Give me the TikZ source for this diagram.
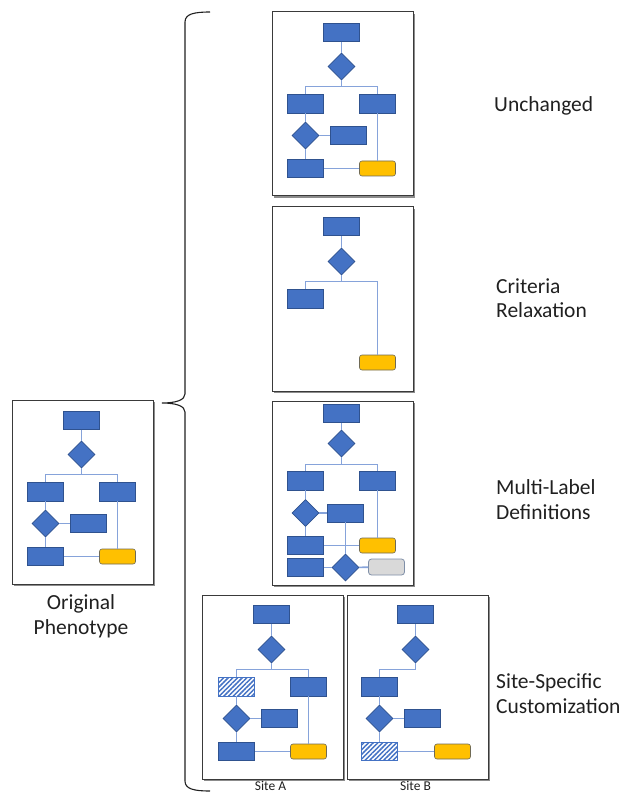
\documentclass[tikz,border=0pt]{standalone}
\usepackage{fontspec}
\setmainfont{Carlito}
\usetikzlibrary{shapes.geometric,patterns.meta,shadows}
\definecolor{ink}{HTML}{202020}
\definecolor{framegray}{HTML}{3A3A3A}
\definecolor{blockblue}{HTML}{4472C4}
\definecolor{blockedge}{HTML}{2F528F}
\definecolor{linkblue}{HTML}{86A3DA}
\definecolor{goldfill}{HTML}{FFC000}
\definecolor{goldedge}{HTML}{6F6A55}
\definecolor{greyfill}{HTML}{D9D9D9}
\definecolor{greyedge}{HTML}{7F8FA8}
\tikzset{
  panel/.style={draw=framegray,fill=white,line width=1pt,minimum width=141pt,minimum height=184pt,inner sep=0pt,
    drop shadow={shadow xshift=1.6pt,shadow yshift=-1.6pt,fill=black,opacity=0.45}},
  stepbox/.style={draw=blockedge,fill=blockblue,line width=0.6pt,minimum width=36pt,minimum height=18pt,inner sep=0pt},
  hatchbox/.style={draw=blockblue,preaction={fill=white},pattern={Lines[angle=45,distance=3.3pt,line width=1.5pt]},
    pattern color=blockblue,line width=0.8pt,minimum width=36pt,minimum height=18pt,inner sep=0pt},
  decision/.style={diamond,aspect=1,draw=blockedge,fill=blockblue,line width=0.6pt,minimum width=27pt,minimum height=27pt,inner sep=0pt},
  goalbox/.style={draw=goldedge,fill=goldfill,rounded corners=2.5pt,line width=0.6pt,minimum width=36pt,minimum height=15pt,inner sep=0pt},
  extrabox/.style={draw=greyedge,fill=greyfill,rounded corners=3pt,line width=0.8pt,minimum width=36pt,minimum height=16pt,inner sep=0pt},
  link/.style={draw=linkblue,line width=1.6pt},
  caption/.style={font=\fontsize{21.5}{24.4}\selectfont,text=ink,align=left,inner sep=0pt},
  sitecap/.style={font=\fontsize{13.5}{15}\selectfont,text=ink,inner sep=0pt}
}
\begin{document}
\begin{tikzpicture}[x=1pt,y=-1pt]
  \useasboundingbox (0,0) rectangle (627,794);

  % frames
  \node[panel] (orig) at (82.5,492) {};
  \node[panel] (unch) at (342.5,104) {};
  \node[panel] (crit) at (342.5,299) {};
  \node[panel] (multi) at (342.5,493) {};
  \node[panel] (sitea) at (272.5,687) {};
  \node[panel] (siteb) at (417.5,687) {};

  % original phenotype
  \begin{scope}[shift={(orig.north west)}]
    \node[stepbox] (o-start) at (70,21) {};
    \node[decision] (o-q1) at (70,55) {};
    \coordinate (o-fork) at (70,75);
    \node[stepbox,minimum height=19pt] (o-left) at (34,92) {};
    \node[stepbox,minimum height=19pt] (o-right) at (106,92) {};
    \node[decision] (o-q2) at (34,124) {};
    \node[stepbox] (o-side) at (77,124) {};
    \node[stepbox] (o-end) at (34,157) {};
    \node[goalbox] (o-goal) at (106,157) {};
    \draw[link] (o-start) -- (o-q1);
    \draw[link] (o-q1) -- (o-fork);
    \draw[link] (o-left) |- (o-fork) -| (o-right);
    \draw[link] (o-left) -- (o-q2);
    \draw[link] (o-q2) -- (o-side);
    \draw[link] (o-q2) -- (o-end);
    \draw[link] (o-end) -- (o-goal);
    \draw[link] (o-right) -- (o-goal);
  \end{scope}

  % unchanged
  \begin{scope}[shift={(unch.north west)}]
    \node[stepbox] (u-start) at (70,21) {};
    \node[decision] (u-q1) at (70,55) {};
    \coordinate (u-fork) at (70,75);
    \node[stepbox,minimum height=19pt] (u-left) at (34,92) {};
    \node[stepbox,minimum height=19pt] (u-right) at (106,92) {};
    \node[decision] (u-q2) at (34,124) {};
    \node[stepbox] (u-side) at (77,124) {};
    \node[stepbox] (u-end) at (34,157) {};
    \node[goalbox] (u-goal) at (106,157) {};
    \draw[link] (u-start) -- (u-q1);
    \draw[link] (u-q1) -- (u-fork);
    \draw[link] (u-left) |- (u-fork) -| (u-right);
    \draw[link] (u-left) -- (u-q2);
    \draw[link] (u-q2) -- (u-side);
    \draw[link] (u-q2) -- (u-end);
    \draw[link] (u-end) -- (u-goal);
    \draw[link] (u-right) -- (u-goal);
  \end{scope}

  % criteria relaxation
  \begin{scope}[shift={(crit.north west)}]
    \node[stepbox] (c-start) at (70,20) {};
    \node[decision] (c-q1) at (70,55) {};
    \coordinate (c-fork) at (70,75);
    \node[stepbox,minimum height=19pt] (c-left) at (34,92) {};
    \node[goalbox] (c-goal) at (106,156) {};
    \draw[link] (c-start) -- (c-q1);
    \draw[link] (c-q1) -- (c-fork);
    \draw[link] (c-left) |- (c-fork) -| (c-goal);
  \end{scope}

  % multi-label definitions
  \begin{scope}[shift={(multi.north west)}]
    \node[stepbox] (m-start) at (70,13) {};
    \node[decision] (m-q1) at (70,43) {};
    \coordinate (m-fork) at (70,64);
    \node[stepbox,minimum height=19pt] (m-left) at (34,80) {};
    \node[stepbox,minimum height=19pt] (m-right) at (106,80) {};
    \node[decision] (m-q2) at (34,112.5) {};
    \node[stepbox] (m-side) at (74,112.5) {};
    \node[stepbox] (m-end) at (34,145) {};
    \node[goalbox] (m-goal) at (106,145) {};
    \node[stepbox] (m-end2) at (34,167) {};
    \node[decision] (m-q3) at (74,167) {};
    \node[extrabox] (m-goal2) at (115,166.5) {};
    \draw[link] (m-start) -- (m-q1);
    \draw[link] (m-q1) -- (m-fork);
    \draw[link] (m-left) |- (m-fork) -| (m-right);
    \draw[link] (m-left) -- (m-q2);
    \draw[link] (m-q2) -- (m-side);
    \draw[link] (m-q2) -- (m-end);
    \draw[link] (m-end) -- (m-goal);
    \draw[link] (m-right) -- (m-goal);
    \draw[link] (m-side) -- (m-q3);
    \draw[link] (m-end2) -- (m-q3);
    \draw[link] (m-q3) -- (m-goal2);
  \end{scope}

  % site A
  \begin{scope}[shift={(sitea.north west)}]
    \node[stepbox] (a-start) at (70,20) {};
    \node[decision] (a-q1) at (70,55) {};
    \coordinate (a-fork) at (70,75);
    \node[hatchbox,minimum height=19pt] (a-left) at (35,92) {};
    \node[stepbox,minimum height=19pt] (a-right) at (107,92) {};
    \node[decision] (a-q2) at (35,124) {};
    \node[stepbox] (a-side) at (78,124) {};
    \node[stepbox] (a-end) at (35,157) {};
    \node[goalbox] (a-goal) at (107,157) {};
    \draw[link] (a-start) -- (a-q1);
    \draw[link] (a-q1) -- (a-fork);
    \draw[link] (a-left) |- (a-fork) -| (a-right);
    \draw[link] (a-left) -- (a-q2);
    \draw[link] (a-q2) -- (a-side);
    \draw[link] (a-q2) -- (a-end);
    \draw[link] (a-end) -- (a-goal);
    \draw[link] (a-right) -- (a-goal);
  \end{scope}

  % site B
  \begin{scope}[shift={(siteb.north west)}]
    \node[stepbox] (b-start) at (69,20) {};
    \node[decision] (b-q1) at (69,55) {};
    \coordinate (b-fork) at (69,75);
    \node[stepbox,minimum height=19pt] (b-left) at (33,92) {};
    \node[decision] (b-q2) at (33,124) {};
    \node[stepbox] (b-side) at (76,124) {};
    \node[hatchbox] (b-end) at (33,157) {};
    \node[goalbox] (b-goal) at (106,157) {};
    \draw[link] (b-start) -- (b-q1);
    \draw[link] (b-q1) -- (b-fork) -| (b-left);
    \draw[link] (b-left) -- (b-q2);
    \draw[link] (b-q2) -- (b-side);
    \draw[link] (b-q2) -- (b-end);
    \draw[link] (b-end) -- (b-goal);
  \end{scope}

  % brace joining the original to its variants
  \coordinate (brtop) at (210,12);
  \coordinate (brtip) at (162,403);
  \coordinate (brbot) at (210,791);
  \draw[ink,line width=1.1pt]
    (brtop) .. controls (194,12) and (185,14) .. (185,22) -- (185,394)
    .. controls (185,400) and (176,403) .. (brtip)
    .. controls (176,403) and (185,406) .. (185,412) -- (185,781)
    .. controls (185,789) and (194,791) .. (brbot);

  % captions (base = last line)
  \node[caption,anchor=base west] (t-unch) at (494,111.7) {Unchanged};
  \node[caption,anchor=base west] (t-crit) at (496,317.7) {Criteria\\Relaxation};
  \node[caption,anchor=base west] (t-multi) at (496,519.3) {Multi-Label\\Definitions};
  \node[caption,anchor=base west] (t-site) at (496,713.3) {Site-Specific\\Customization};
  \node[caption,align=center,anchor=base] (t-orig) at (81,634.3) {Original\\Phenotype};
  \node[sitecap,anchor=base] (t-sitea) at (270.5,790) {Site A};
  \node[sitecap,anchor=base] (t-siteb) at (415.5,790) {Site B};
\end{tikzpicture}
\end{document}
